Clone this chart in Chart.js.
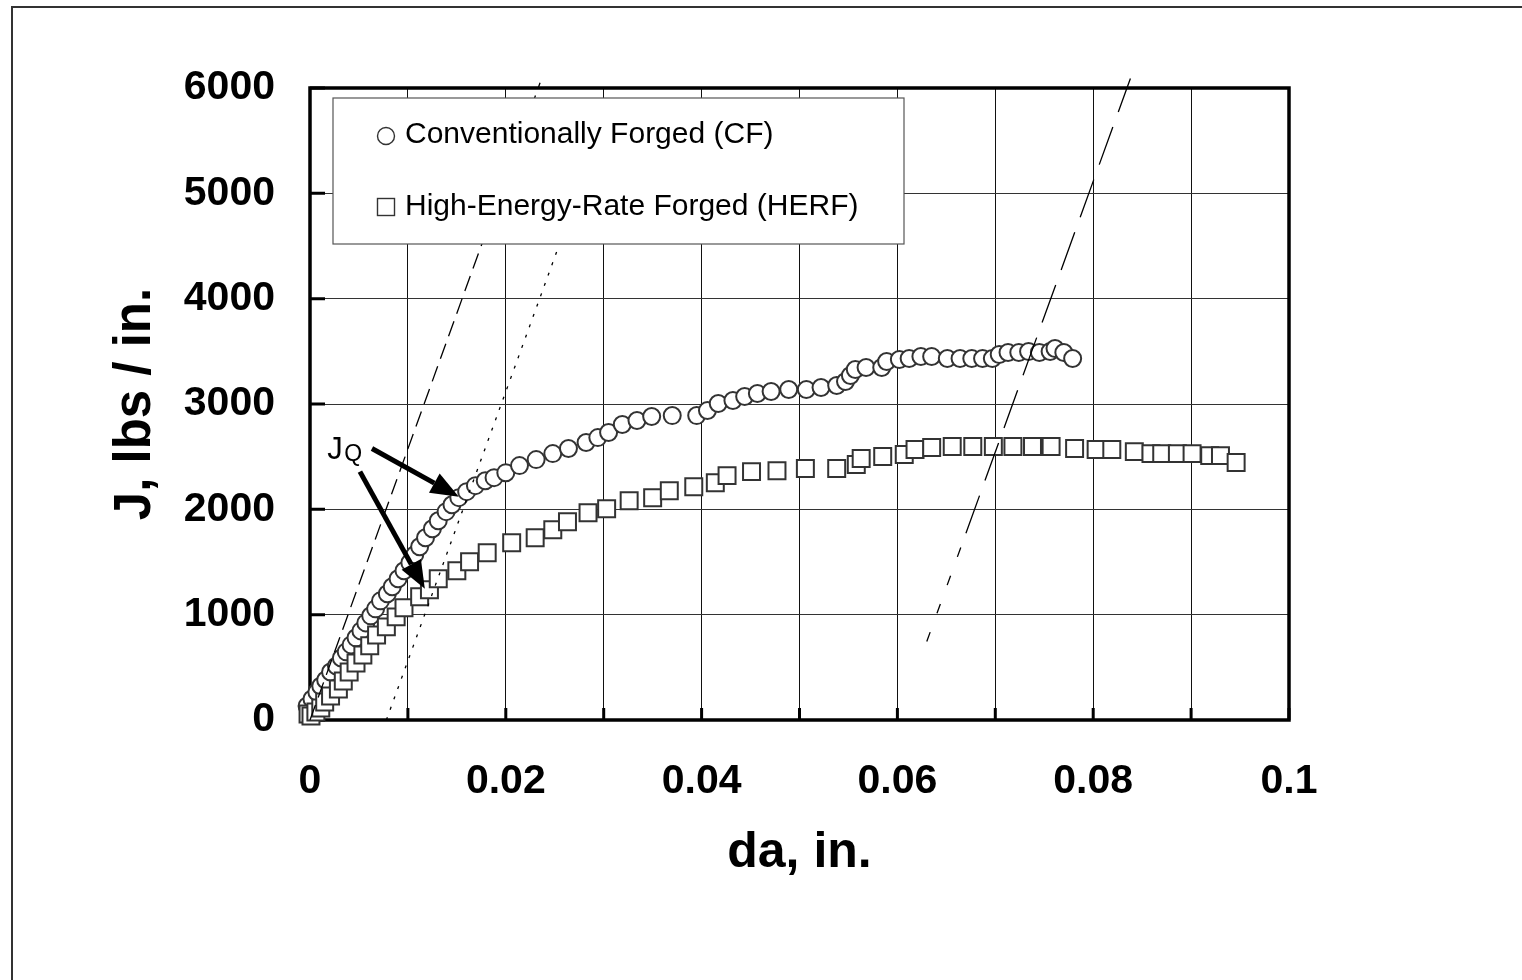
<!DOCTYPE html>
<html>
<head>
<meta charset="utf-8">
<title>J-R curves</title>
<script src="https://cdn.jsdelivr.net/npm/chart.js"></script>
<style>
  html, body { margin: 0; padding: 0; background: #fff; }
  #wrap { position: relative; width: 1522px; height: 980px; }
</style>
</head>
<body>
<div id="wrap"><canvas id="chart" width="1522" height="980"></canvas></div>
<script>
// crack extension da (in.) and J (lbs/in.)
const cfDa = [-0.0005, -0.0003, 0.0002, 0.0007, 0.0011, 0.0016, 0.0021, 0.0027, 0.0032, 0.0037,
  0.0042, 0.0047, 0.0052, 0.0057, 0.0062, 0.0067, 0.0072, 0.0079, 0.0084, 0.0090,
  0.0096, 0.0102, 0.0107, 0.0112, 0.0118, 0.0125, 0.0131, 0.0139, 0.0145, 0.0152,
  0.0160, 0.0169, 0.0179, 0.0188, 0.0200, 0.0214, 0.0231, 0.0248, 0.0264, 0.0282,
  0.0294, 0.0305, 0.0319, 0.0334, 0.0349, 0.0370, 0.0395, 0.0406, 0.0417, 0.0432,
  0.0444, 0.0457, 0.0471, 0.0489, 0.0507, 0.0522, 0.0538, 0.0547, 0.0552, 0.0557,
  0.0568, 0.0584, 0.0589, 0.0602, 0.0612, 0.0624, 0.0635, 0.0651, 0.0664, 0.0676,
  0.0687, 0.0697, 0.0704, 0.0713, 0.0724, 0.0734, 0.0745, 0.0756, 0.0761, 0.0770, 0.0779];
const cfJ = [76, 133, 200, 266, 323, 380, 456, 513, 589, 647,
  713, 780, 846, 922, 989, 1055, 1131, 1198, 1265, 1341,
  1417, 1493, 1569, 1645, 1730, 1816, 1892, 1978, 2044, 2111,
  2168, 2225, 2272, 2301, 2348, 2415, 2472, 2529, 2577, 2634,
  2681, 2729, 2805, 2843, 2881, 2890, 2890, 2938, 3005, 3033,
  3071, 3100, 3119, 3138, 3138, 3157, 3176, 3214, 3271, 3328,
  3347, 3347, 3404, 3423, 3432, 3451, 3451, 3432, 3432, 3432,
  3432, 3432, 3470, 3489, 3489, 3499, 3489, 3499, 3527, 3489, 3432];

const herfDa = [-0.0004, -0.0002, 0.0001, 0.0006, 0.0011, 0.0015, 0.0021, 0.0029, 0.0034, 0.0040,
  0.0047, 0.0054, 0.0061, 0.0068, 0.0078, 0.0088, 0.0096, 0.0112, 0.0122, 0.0131,
  0.0150, 0.0163, 0.0181, 0.0206, 0.0230, 0.0248, 0.0263, 0.0284, 0.0303, 0.0326,
  0.0350, 0.0367, 0.0392, 0.0414, 0.0426, 0.0451, 0.0477, 0.0506, 0.0538, 0.0558,
  0.0563, 0.0585, 0.0607, 0.0618, 0.0635, 0.0656, 0.0677, 0.0698, 0.0718, 0.0738,
  0.0757, 0.0781, 0.0803, 0.0819, 0.0842, 0.0859, 0.0870, 0.0886, 0.0901, 0.0919, 0.0930, 0.0946];
const herfJ = [10, 57, 38, 76, 114, 171, 228, 295, 371, 456,
  542, 618, 704, 808, 884, 979, 1065, 1170, 1236, 1341,
  1417, 1502, 1588, 1683, 1730, 1807, 1883, 1968, 2006, 2082,
  2111, 2177, 2215, 2253, 2320, 2358, 2367, 2387, 2387, 2425,
  2482, 2501, 2520, 2567, 2586, 2596, 2596, 2596, 2596, 2596,
  2596, 2577, 2567, 2567, 2548, 2529, 2529, 2529, 2529, 2510, 2510, 2444];

// construction lines (blunting line, offset line, limit line)
const bluntDa = [0, 0.0235];
const bluntJ = [0, 6050];
const offsetDa = [0.0078, 0.0252];
const offsetJ = [0, 4446];
const limitLowDa = [0.0630, 0.0670];
const limitLowJ = [745, 1773];
const limitDa = [0.0670, 0.0838];
const limitJ = [1773, 6091];

// J_Q note: label spot and two arrows (start da, J -> end da, J)
const jqLabel = [0.00175, 2482];
const jqArrows = [[0.00633, 2577, 0.0152, 2120], [0.0051, 2358, 0.01173, 1245]];

const xTickLabels = ["0", "0.02", "0.04", "0.06", "0.08", "0.1"];
const yTickLabels = ["0", "1000", "2000", "3000", "4000", "5000", "6000"];
const seriesNames = ["Conventionally Forged (CF)", "High-Energy-Rate Forged (HERF)"];

const FONT = "'Liberation Sans', Arial, sans-serif";
const pts = (xs, ys) => xs.map((x, i) => ({ x: x, y: ys[i] }));

function drawArrow(ctx, x1, y1, x2, y2) {
    const ang = Math.atan2(y2 - y1, x2 - x1);
    const head = 28, half = 11;
    const bx = x2 - head * Math.cos(ang), by = y2 - head * Math.sin(ang);
    ctx.lineWidth = 5;
    ctx.beginPath();
    ctx.moveTo(x1, y1);
    ctx.lineTo(bx, by);
    ctx.stroke();
    ctx.beginPath();
    ctx.moveTo(x2, y2);
    ctx.lineTo(bx + half * Math.sin(ang), by - half * Math.cos(ang));
    ctx.lineTo(bx - half * Math.sin(ang), by + half * Math.cos(ang));
    ctx.closePath();
    ctx.fill();
}

const decor = {
    id: "decor",
    beforeDraw(chart) {
        const ctx = chart.ctx;
        ctx.save();
        ctx.fillStyle = "#fff";
        ctx.fillRect(0, 0, chart.width, chart.height);
        // outer frame, only its left and top edges fall inside the picture
        ctx.strokeStyle = "#333";
        ctx.lineWidth = 2;
        ctx.beginPath();
        ctx.moveTo(12, chart.height);
        ctx.lineTo(12, 7);
        ctx.lineTo(chart.width, 7);
        ctx.stroke();
        ctx.restore();
    },
    beforeDatasetsDraw(chart) {
        const { ctx, chartArea: a, scales: { x, y } } = chart;
        ctx.save();
        ctx.strokeStyle = "#000";
        // inward tick marks
        ctx.lineWidth = 3;
        ctx.beginPath();
        x.ticks.forEach(t => {
            const px = x.getPixelForValue(t.value);
            ctx.moveTo(px, a.bottom);
            ctx.lineTo(px, a.bottom - 12);
        });
        y.ticks.forEach(t => {
            const py = y.getPixelForValue(t.value);
            ctx.moveTo(a.left, py);
            ctx.lineTo(a.left + 15, py);
        });
        ctx.stroke();
        // heavy plot border
        ctx.lineWidth = 3.5;
        ctx.strokeRect(a.left, a.top, a.right - a.left, a.bottom - a.top);
        ctx.restore();
    },
    afterDatasetsDraw(chart) {
        const { ctx, chartArea: a, scales: { x, y } } = chart;
        ctx.save();
        // legend box
        const lx = a.left + 23, ly = a.top + 10, lw = 571, lh = 146;
        ctx.fillStyle = "#fff";
        ctx.fillRect(lx, ly, lw, lh);
        ctx.strokeStyle = "#555";
        ctx.lineWidth = 1.2;
        ctx.strokeRect(lx, ly, lw, lh);

        ctx.strokeStyle = "#333";
        ctx.lineWidth = 1.4;
        ctx.beginPath();
        ctx.arc(lx + 53, ly + 38, 8.5, 0, Math.PI * 2);
        ctx.stroke();
        ctx.strokeRect(lx + 44.5, ly + 100.5, 17, 17);

        ctx.fillStyle = "#000";
        ctx.font = "30px " + FONT;
        ctx.textBaseline = "alphabetic";
        ctx.textAlign = "left";
        ctx.fillText(seriesNames[0], lx + 72, ly + 45);
        ctx.fillText(seriesNames[1], lx + 72, ly + 117);

        // J_Q label with arrows
        const jx = x.getPixelForValue(jqLabel[0]), jy = y.getPixelForValue(jqLabel[1]);
        ctx.font = "31px " + FONT;
        ctx.fillText("J", jx, jy);
        ctx.font = "23px " + FONT;
        ctx.fillText("Q", jx + 17, jy + 2);

        ctx.strokeStyle = "#000";
        ctx.fillStyle = "#000";
        jqArrows.forEach(r => {
            drawArrow(ctx, x.getPixelForValue(r[0]), y.getPixelForValue(r[1]),
                x.getPixelForValue(r[2]), y.getPixelForValue(r[3]));
        });
        ctx.restore();
    }
};

const markerStyle = { showLine: false, borderColor: "#333", backgroundColor: "#fff", borderWidth: 2, clip: false };
const lineStyle = { showLine: true, pointRadius: 0, borderColor: "#000", borderWidth: 1.3, clip: false, order: 0 };

new Chart(document.getElementById("chart"), {
    type: "scatter",
    data: {
        datasets: [
            Object.assign({ label: seriesNames[0], data: pts(cfDa, cfJ), pointStyle: "circle", pointRadius: 8.5, order: 2 }, markerStyle),
            Object.assign({ label: seriesNames[1], data: pts(herfDa, herfJ), pointStyle: "rect", pointRadius: 12, order: 1 }, markerStyle),
            Object.assign({ label: "blunting", data: pts(bluntDa, bluntJ), borderDash: [16, 8] }, lineStyle),
            Object.assign({ label: "offset", data: pts(offsetDa, offsetJ), borderDash: [3, 8], borderWidth: 1.8 }, lineStyle),
            Object.assign({ label: "limit low", data: pts(limitLowDa, limitLowJ), borderDash: [10, 20] }, lineStyle),
            Object.assign({ label: "limit", data: pts(limitDa, limitJ), borderDash: [40, 16] }, lineStyle)
        ]
    },
    options: {
        responsive: false,
        animation: false,
        events: [],
        layout: { padding: { top: 88, right: 233, bottom: 0, left: 0 } },
        plugins: {
            legend: { display: false },
            tooltip: { enabled: false }
        },
        scales: {
            x: {
                type: "linear",
                min: 0,
                max: 0.1,
                afterFit: s => { s.height = 260; },
                grid: { color: "#111", lineWidth: 1, drawTicks: false },
                border: { display: false },
                ticks: {
                    stepSize: 0.01,
                    autoSkip: false,
                    maxRotation: 0,
                    padding: 37,
                    color: "#000",
                    font: { family: FONT, size: 41, weight: "bold" },
                    callback: (v, i) => (i % 2 === 0 ? xTickLabels[i / 2] : "")
                },
                title: {
                    display: true,
                    text: "da, in.",
                    color: "#000",
                    font: { family: FONT, size: 50, weight: "bold" },
                    padding: { top: 0, bottom: 97 }
                }
            },
            y: {
                type: "linear",
                min: 0,
                max: 6000,
                afterFit: s => { s.width = 310; },
                grid: { color: "#333", lineWidth: 1, drawTicks: false },
                border: { display: false },
                ticks: {
                    stepSize: 1000,
                    padding: 35,
                    color: "#000",
                    font: { family: FONT, size: 41, weight: "bold" },
                    callback: (v, i) => yTickLabels[i]
                },
                title: {
                    display: true,
                    text: "J, lbs / in.",
                    color: "#000",
                    font: { family: FONT, size: 51, weight: "bold" },
                    padding: { top: 105, bottom: 0 }
                }
            }
        }
    },
    plugins: [decor]
});
</script>
</body>
</html>
